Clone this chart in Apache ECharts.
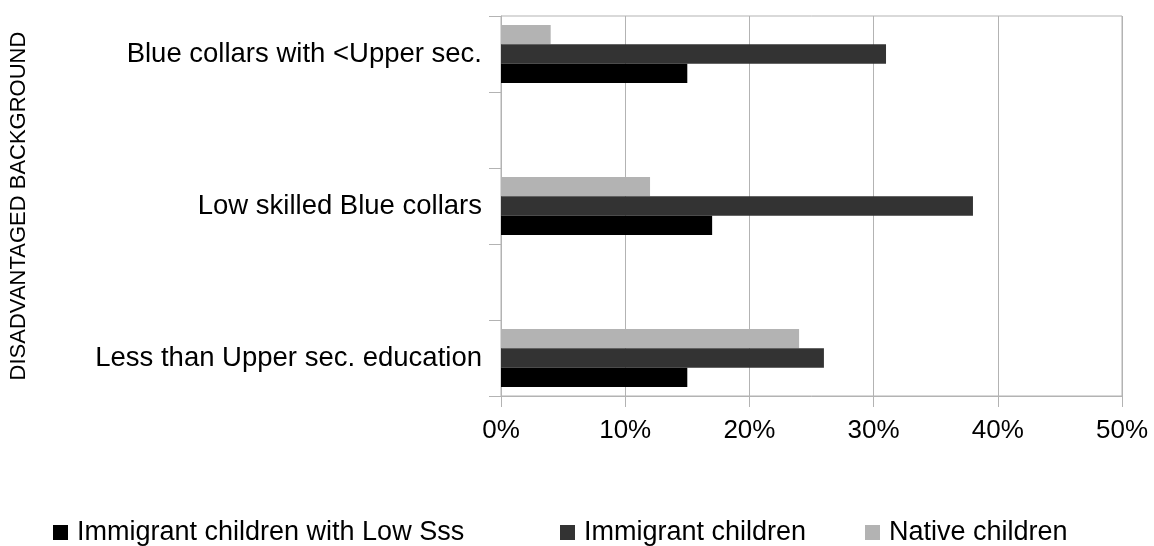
<!DOCTYPE html>
<html>
<head>
<meta charset="utf-8">
<script src="https://cdn.jsdelivr.net/npm/echarts@6/dist/echarts.min.js"></script>
<style>
  html, body { margin: 0; padding: 0; background: #fff; }
  #chart { width: 1154px; height: 546px; }
</style>
</head>
<body>
<div id="chart"></div>
<script>
// Category slots (bottom to top); empty slots keep the spacing between groups
const categories = [
  'Less than Upper sec. education',
  '',
  'Low skilled Blue collars',
  '',
  'Blue collars with <Upper sec.'
];

// Shares in percent, one value per category slot
const lowSssImmigrant = [15, null, 17, null, 15];
const immigrant       = [26, null, 38, null, 31];
const native          = [24, null, 12, null, 4];

const seriesNames = ['Immigrant children with Low Sss', 'Immigrant children', 'Native children'];
const seriesColors = ['#000000', '#333333', '#b3b3b3'];
const xTicks = [0, 10, 20, 30, 40, 50];

const FONT = 'Liberation Sans, Arial, sans-serif';
const GRID_COLOR = '#b3b3b3';

const chart = echarts.init(document.getElementById('chart'), null, { renderer: 'canvas' });

const dataSets = [lowSssImmigrant, immigrant, native];
const legendLefts = [48, 555, 860];

// Horizontal bars stack series top-down, so feed them in reverse to keep
// the first series at the bottom of each group.
const order = [2, 1, 0];

chart.setOption({
  animation: false,
  textStyle: { fontFamily: FONT },
  grid: {
    left: 493, right: 32, top: 16, bottom: 150,
    show: true, borderColor: GRID_COLOR, borderWidth: 1, containLabel: false
  },
  legend: seriesNames.map((name, i) => ({
    data: [name],
    left: legendLefts[i],
    top: 514,
    itemWidth: 15, itemHeight: 15,
    itemGap: 0,
    icon: 'rect',
    textStyle: { fontFamily: FONT, fontSize: 27, color: '#000', padding: [0, 0, 0, 4] }
  })),
  xAxis: {
    type: 'value',
    min: xTicks[0], max: xTicks[xTicks.length - 1], interval: 10,
    axisLine: { show: true, lineStyle: { color: GRID_COLOR } },
    axisTick: { show: true, length: 11, lineStyle: { color: GRID_COLOR } },
    splitLine: { show: true, lineStyle: { color: GRID_COLOR } },
    axisLabel: { formatter: '{value}%', fontSize: 26, color: '#000', margin: 22, fontFamily: FONT }
  },
  yAxis: {
    type: 'category',
    data: categories,
    name: 'DISADVANTAGED BACKGROUND',
    nameLocation: 'middle',
    nameRotate: 90,
    nameGap: 471,
    nameTextStyle: { fontSize: 22, color: '#000', fontFamily: FONT },
    axisLine: { show: true, lineStyle: { color: GRID_COLOR } },
    axisTick: { show: true, length: 12, lineStyle: { color: GRID_COLOR } },
    splitLine: { show: false },
    axisLabel: { fontSize: 27.5, color: '#000', margin: 19, fontFamily: FONT, interval: 0 }
  },
  series: order.map(i => ({
    name: seriesNames[i],
    type: 'bar',
    data: dataSets[i],
    itemStyle: { color: seriesColors[i] },
    barGap: '0%',
    barCategoryGap: '24%'
  }))
});
</script>
</body>
</html>
